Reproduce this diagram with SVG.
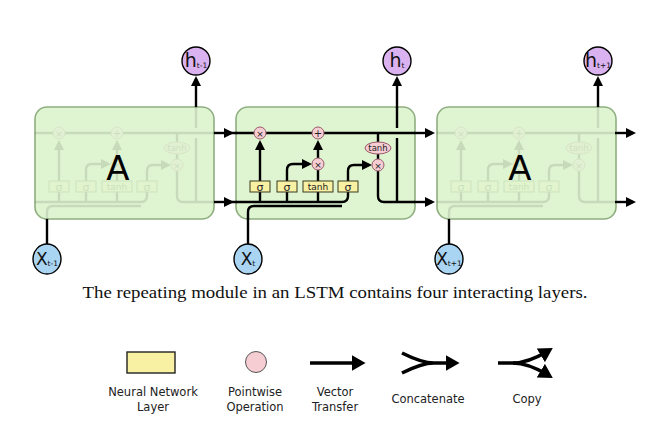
<svg xmlns="http://www.w3.org/2000/svg" xmlns:xlink="http://www.w3.org/1999/xlink" width="657" height="432" viewBox="0 0 657 432">
<style>
.box{fill:#dff5d2;stroke:#8fae80;stroke-width:1.6}
.ln{fill:none;stroke:#000;stroke-width:2.4}
.lg{fill:none;stroke:#000;stroke-width:3.6}
.gate{fill:#f8f0a3;stroke:#3a3a20;stroke-width:1}
.pw{fill:#f6cdd2;stroke:#9a5a6a;stroke-width:1}
.gt{font-family:"DejaVu Sans",sans-serif;fill:#222;text-anchor:middle}
.hc{fill:#dbb2f0;stroke:#000;stroke-width:1.4}
.xc{fill:#a9d4f2;stroke:#000;stroke-width:1.4}
.lbl{font-family:"DejaVu Sans",sans-serif;fill:#111;text-anchor:middle}
.leg{font-family:"DejaVu Sans",sans-serif;font-size:11.5px;fill:#222;text-anchor:middle}
.big{font-family:"DejaVu Sans",sans-serif;font-size:34px;fill:#000;text-anchor:middle}
</style>
<defs>
<marker id="ah" viewBox="0 0 10 10" refX="7" refY="5" markerWidth="10" markerHeight="10" markerUnits="userSpaceOnUse" orient="auto"><path d="M0,0 L10,5 L0,10 z" fill="#000"/></marker>
<marker id="ahL" viewBox="0 0 10 10" refX="6" refY="5" markerWidth="14" markerHeight="16" markerUnits="userSpaceOnUse" orient="auto" preserveAspectRatio="none"><path d="M0,0 L10,5 L0,10 z" fill="#000"/></marker>
<g id="cell">
<path class="ln" d="M0,26 H179"/>
<path class="ln" d="M0,95 H106 Q112,95 112,89 V85"/>
<path class="ln" d="M24,95 V85 M51,95 V85 M82,95 V85"/>
<path class="ln" d="M12,112 V105 Q12,99 18,99 H106"/>
<path class="ln" d="M24,74 V36" marker-end="url(#ah)"/>
<path class="ln" d="M51,74 V63 Q51,57 57,57 H73" marker-end="url(#ah)"/>
<path class="ln" d="M82,74 V63"/>
<path class="ln" d="M82,51 V36" marker-end="url(#ah)"/>
<path class="ln" d="M112,74 V64 Q112,58 118,58 H133" marker-end="url(#ah)"/>
<path class="ln" d="M142,26 V35 M142,47 V52"/>
<path class="ln" d="M142,64 V89 Q142,95 148,95 H179"/>
<path class="ln" d="M161,95 V31 M161,21 V0"/>
<rect class="gate" x="14" y="74" width="20" height="11"/>
<rect class="gate" x="41" y="74" width="20" height="11"/>
<rect class="gate" x="67" y="74" width="30" height="11"/>
<rect class="gate" x="102" y="74" width="20" height="11"/>
<text class="gt" x="24" y="83.5" font-size="11">σ</text>
<text class="gt" x="51" y="83.5" font-size="11">σ</text>
<text class="gt" x="82" y="83" font-size="9">tanh</text>
<text class="gt" x="112" y="83.5" font-size="11">σ</text>
<circle class="pw" cx="24" cy="26" r="6"/>
<circle class="pw" cx="82" cy="26" r="6"/>
<circle class="pw" cx="82" cy="57" r="6"/>
<circle class="pw" cx="142" cy="58" r="6"/>
<ellipse class="pw" cx="142" cy="41" rx="13" ry="6"/>
<text class="gt" x="24" y="29.5" font-size="9">×</text>
<text class="gt" x="82" y="29.5" font-size="10">+</text>
<text class="gt" x="82" y="60.5" font-size="9">×</text>
<text class="gt" x="142" y="61.5" font-size="9">×</text>
<text class="gt" x="142" y="44" font-size="8.5">tanh</text>
</g>
</defs>
<rect width="657" height="432" fill="#fff"/>

<g id="module-prev">
<rect class="box" x="35" y="107" width="179" height="112" rx="12"/>
<use xlink:href="#cell" href="#cell" transform="translate(35,107)" opacity="0.1"/>
<text class="big" x="118" y="180">A</text>
</g>

<g id="module-lstm">
<rect class="box" x="236" y="107" width="179" height="112" rx="12"/>
<use xlink:href="#cell" href="#cell" transform="translate(236,107)"/>
</g>

<g id="module-next">
<rect class="box" x="437" y="107" width="179" height="112" rx="12"/>
<use xlink:href="#cell" href="#cell" transform="translate(437,107)" opacity="0.1"/>
<text class="big" x="520" y="180">A</text>
</g>

<g id="connectors">
<path class="ln" d="M214,133 H231" marker-end="url(#ah)"/>
<path class="ln" d="M214,202 H231" marker-end="url(#ah)"/>
<path class="ln" d="M196,107 V79" marker-end="url(#ah)"/>
<path class="ln" d="M47,244 V219"/>
<path class="ln" d="M229,133 H237 M229,202 H237"/>
<path class="ln" d="M414,133 H432" marker-end="url(#ah)"/>
<path class="ln" d="M414,202 H432" marker-end="url(#ah)"/>
<path class="ln" d="M397,108 V79" marker-end="url(#ah)"/>
<path class="ln" d="M248,244 V218"/>
<path class="ln" d="M615,133 H633" marker-end="url(#ah)"/>
<path class="ln" d="M615,202 H633" marker-end="url(#ah)"/>
<path class="ln" d="M598,107 V79" marker-end="url(#ah)"/>
<path class="ln" d="M449,244 V219"/>
</g>

<g id="h-prev"><circle class="hc" cx="196" cy="61" r="14"/><text class="lbl" x="196" y="67"><tspan font-size="19">h</tspan><tspan font-size="7.5" dy="1">t-1</tspan></text></g>
<g id="h-t"><circle class="hc" cx="397" cy="61" r="14"/><text class="lbl" x="397" y="67"><tspan font-size="19">h</tspan><tspan font-size="7.5" dy="1">t</tspan></text></g>
<g id="h-next"><circle class="hc" cx="598" cy="61" r="14"/><text class="lbl" x="598" y="67"><tspan font-size="19">h</tspan><tspan font-size="7.5" dy="1">t+1</tspan></text></g>
<g id="x-prev"><ellipse class="xc" cx="47" cy="259" rx="14" ry="15"/><text class="lbl" x="47" y="265"><tspan font-size="17">X</tspan><tspan font-size="7.5" dy="1">t-1</tspan></text></g>
<g id="x-t"><ellipse class="xc" cx="248" cy="259" rx="14" ry="15"/><text class="lbl" x="248" y="265"><tspan font-size="17">X</tspan><tspan font-size="7.5" dy="1">t</tspan></text></g>
<g id="x-next"><ellipse class="xc" cx="449" cy="259" rx="14" ry="15"/><text class="lbl" x="449" y="265"><tspan font-size="17">X</tspan><tspan font-size="7.5" dy="1">t+1</tspan></text></g>

<text x="335" y="298" font-family="Liberation Serif, serif" font-size="16" fill="#111" text-anchor="middle" textLength="505" lengthAdjust="spacingAndGlyphs">The repeating module in an LSTM contains four interacting layers.</text>

<g id="legend">
<rect x="127" y="352" width="48" height="21" fill="#f8f0a3" stroke="#222" stroke-width="1.4"/>
<circle cx="256" cy="362" r="10.5" fill="#f6cdd2" stroke="#555" stroke-width="1"/>
<path class="lg" d="M310,363 H360" marker-end="url(#ahL)"/>
<path class="lg" d="M402,353 Q422,363 434,363 M402,373 Q422,363 434,363 M432,363 H454" marker-end="url(#ahL)"/>
<path class="lg" d="M498,363 H513 Q528,363 548,351" marker-end="url(#ahL)"/>
<path class="lg" d="M513,363 Q528,363 548,375" marker-end="url(#ahL)"/>
<text class="leg" x="153" y="396">Neural Network</text>
<text class="leg" x="153" y="411">Layer</text>
<text class="leg" x="255" y="396">Pointwise</text>
<text class="leg" x="255" y="411">Operation</text>
<text class="leg" x="335" y="396">Vector</text>
<text class="leg" x="335" y="411">Transfer</text>
<text class="leg" x="428" y="403">Concatenate</text>
<text class="leg" x="527" y="403">Copy</text>
</g>
</svg>
